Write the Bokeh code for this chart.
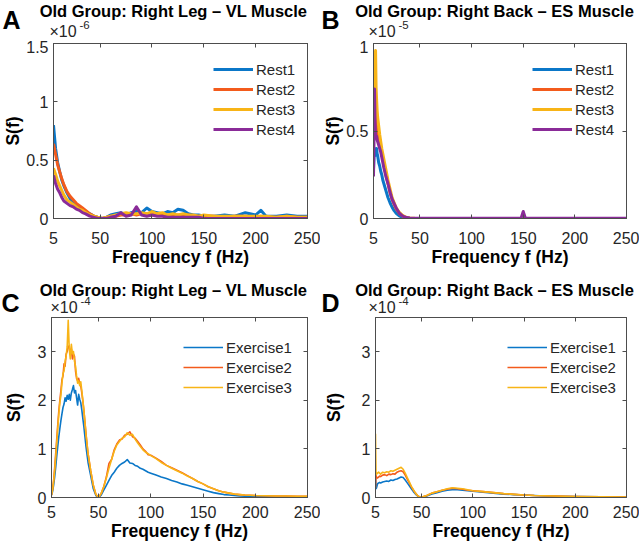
from bokeh.plotting import figure
from bokeh.models import Range1d, FixedTicker, LinearAxis, Label, Legend, LegendItem
from bokeh.layouts import column, row
from bokeh.embed import file_html
from bokeh.resources import INLINE

FONT = "Liberation Sans"
TXT = "#262626"
AX = "#4d4d4d"
BLUE, ORANGE, YELLOW, PURPLE = "#0b77c8", "#f35b1c", "#f8b417", "#8a2b98"

# ---------------- data ----------------
x_ticks = [5, 50, 100, 150, 200, 250]

# Panel A  (S(f) in units of 1e-6)
freq_a = [5, 7, 9, 11, 13, 15, 18, 21, 24, 27, 30, 33, 36, 40, 44, 48, 52, 56, 60, 65,
          70, 75, 80, 85, 90, 95, 100, 105, 110, 115, 120, 125, 130, 135, 140, 145, 150,
          160, 170, 180, 190, 200, 205, 210, 220, 230, 240, 250]
rest1_a = [0.80, 0.60, 0.48, 0.40, 0.33, 0.28, 0.22, 0.17, 0.14, 0.12, 0.10, 0.08, 0.06, 0.04, 0.02,
           0.01, 0.00, 0.01, 0.03, 0.04, 0.05, 0.03, 0.05, 0.06, 0.05, 0.09, 0.06, 0.05, 0.04, 0.06,
           0.05, 0.08, 0.07, 0.04, 0.03, 0.03, 0.02, 0.02, 0.03, 0.02, 0.05, 0.03, 0.07, 0.02, 0.02,
           0.03, 0.02, 0.02]
rest2_a = [0.64, 0.55, 0.46, 0.40, 0.34, 0.29, 0.23, 0.19, 0.16, 0.13, 0.11, 0.09, 0.07, 0.04, 0.02,
           0.01, 0.00, 0.01, 0.02, 0.02, 0.03, 0.03, 0.04, 0.03, 0.04, 0.04, 0.03, 0.04, 0.03, 0.03,
           0.02, 0.03, 0.02, 0.03, 0.02, 0.02, 0.02, 0.02, 0.01, 0.02, 0.02, 0.01, 0.02, 0.01, 0.01,
           0.02, 0.01, 0.01]
rest3_a = [0.43, 0.38, 0.32, 0.28, 0.24, 0.20, 0.16, 0.14, 0.12, 0.10, 0.08, 0.07, 0.05, 0.03, 0.02,
           0.01, 0.00, 0.01, 0.02, 0.03, 0.04, 0.05, 0.04, 0.04, 0.05, 0.04, 0.06, 0.04, 0.05, 0.03,
           0.04, 0.03, 0.04, 0.03, 0.03, 0.02, 0.03, 0.02, 0.02, 0.02, 0.02, 0.02, 0.02, 0.02, 0.01,
           0.02, 0.01, 0.01]
rest4_a = [0.37, 0.30, 0.25, 0.22, 0.18, 0.15, 0.13, 0.11, 0.10, 0.08, 0.07, 0.05, 0.04, 0.02, 0.01,
           0.00, 0.00, 0.00, 0.01, 0.02, 0.05, 0.02, 0.03, 0.10, 0.03, 0.02, 0.03, 0.02, 0.02, 0.01,
           0.01, 0.01, 0.01, 0.01, 0.01, 0.01, 0.00, 0.00, 0.00, 0.00, 0.00, 0.00, 0.00, 0.00, 0.00,
           0.00, 0.00, 0.00]

# Panel B  (units of 1e-5)
freq_b = [5, 5.5, 6, 6.5, 7, 7.5, 8, 8.5, 9, 10, 11, 12, 13, 14, 15, 17, 19, 21, 23, 25,
          27, 30, 33, 36, 40, 45, 50, 60, 80, 100, 120, 140, 148, 150, 152, 160, 180, 200, 225, 250]
rest1_b = [0.28, 0.35, 0.40, 0.36, 0.38, 0.37, 0.40, 0.37, 0.36, 0.32, 0.30, 0.27, 0.25, 0.22, 0.20,
           0.16, 0.12, 0.09, 0.065, 0.045, 0.03, 0.015, 0.007, 0.003, 0.001, 0, 0, 0, 0, 0,
           0, 0, 0, 0.005, 0, 0, 0, 0, 0, 0]
rest2_b = [0.45, 0.55, 0.72, 0.62, 0.65, 0.58, 0.55, 0.52, 0.50, 0.46, 0.43, 0.40, 0.37, 0.34, 0.31,
           0.25, 0.20, 0.15, 0.11, 0.08, 0.055, 0.03, 0.015, 0.007, 0.002, 0, 0, 0, 0, 0,
           0, 0, 0, 0.01, 0, 0, 0, 0, 0, 0]
rest3_b = [0.48, 0.70, 0.82, 0.90, 0.96, 0.75, 0.68, 0.62, 0.58, 0.53, 0.48, 0.44, 0.40, 0.37, 0.34,
           0.28, 0.22, 0.17, 0.12, 0.09, 0.06, 0.035, 0.018, 0.008, 0.003, 0.001, 0, 0, 0, 0,
           0, 0, 0, 0.01, 0, 0, 0, 0, 0, 0]
rest4_b = [0.24, 0.45, 0.74, 0.55, 0.48, 0.46, 0.47, 0.45, 0.44, 0.42, 0.40, 0.38, 0.35, 0.32, 0.29,
           0.24, 0.20, 0.15, 0.11, 0.085, 0.06, 0.03, 0.015, 0.007, 0.003, 0.002, 0.002, 0.002, 0.002, 0.002,
           0.002, 0.002, 0.003, 0.04, 0.003, 0.002, 0.002, 0.002, 0.002, 0.002]

# Panel C  (units of 1e-4)
freq_c = [5, 6, 7, 8, 9, 10, 11, 12, 13, 14, 15, 16, 17, 18, 19, 20, 21, 22, 23, 24,
          25, 26, 27, 28, 29, 30, 31, 32, 33, 34, 35, 36, 37, 38, 39, 40,
          42.5, 45, 47.5, 50, 52.5, 55, 57.5, 60, 62.5, 65, 67.5, 70, 72.5, 75, 77.5, 80,
          82.5, 85, 87.5, 90, 92.5, 95, 97.5, 100,
          105, 110, 115, 120, 125, 130, 135, 140, 145, 150, 155, 160, 165, 170, 175, 180,
          185, 190, 195, 200, 210, 220, 230, 240, 250]
ex1_c = [0.05, 0.12, 0.25, 0.42, 0.62, 0.85, 1.05, 1.25, 1.42, 1.58,
         1.72, 1.85, 1.92, 2.05, 1.98, 2.10, 2.02, 2.12, 2.00, 2.15,
         2.22, 2.30, 2.15, 2.20, 2.05, 1.90, 2.12, 2.02, 1.95, 1.80,
         1.62, 1.45, 1.25, 1.05, 0.88, 0.72,
         0.45, 0.18, 0.04, 0.00, 0.05, 0.15, 0.25, 0.35, 0.45, 0.52, 0.60, 0.66, 0.70, 0.73,
         0.78, 0.71, 0.70, 0.66, 0.64, 0.60, 0.58, 0.55, 0.52, 0.50,
         0.46, 0.42, 0.39, 0.35, 0.32, 0.28, 0.25, 0.22, 0.19, 0.16, 0.13, 0.10, 0.08, 0.06,
         0.05, 0.04, 0.03, 0.025, 0.02, 0.02,
         0.015, 0.01, 0.01, 0.01, 0.01]
ex2_c = [0.05, 0.16, 0.35, 0.60, 0.90, 1.20, 1.50, 1.78, 2.00, 2.20,
         2.42, 2.50, 2.75, 2.70, 2.95, 3.00, 3.10, 3.12, 2.95, 3.05,
         2.85, 2.95, 2.90, 2.60, 2.45, 2.40, 2.45, 2.35, 2.30, 2.15,
         1.98, 1.78, 1.55, 1.32, 1.10, 0.90,
         0.55, 0.25, 0.06, 0.00, 0.08, 0.22, 0.42, 0.70, 0.78, 0.98, 1.10, 1.18, 1.20, 1.28,
         1.30, 1.35, 1.25, 1.22, 1.15, 1.08, 1.00, 0.95, 0.88, 0.87,
         0.81, 0.74, 0.66, 0.61, 0.56, 0.51, 0.45, 0.39, 0.33, 0.28, 0.22, 0.18, 0.14, 0.11,
         0.09, 0.07, 0.06, 0.05, 0.045, 0.04,
         0.035, 0.03, 0.03, 0.025, 0.025]
ex3_c = [0.05, 0.15, 0.32, 0.55, 0.82, 1.12, 1.42, 1.70, 1.95, 2.10,
         2.35, 2.55, 2.60, 2.80, 2.90, 3.10, 3.64, 3.05, 2.85, 3.15,
         2.95, 3.00, 2.80, 2.70, 2.50, 2.35, 2.40, 2.30, 2.38, 2.20,
         2.00, 1.80, 1.55, 1.30, 1.10, 0.90,
         0.55, 0.25, 0.06, 0.00, 0.08, 0.22, 0.40, 0.60, 0.78, 0.95, 1.08, 1.15, 1.22, 1.25,
         1.33, 1.28, 1.30, 1.20, 1.12, 1.05, 0.98, 0.93, 0.90, 0.86,
         0.80, 0.72, 0.66, 0.60, 0.55, 0.50, 0.44, 0.39, 0.33, 0.28, 0.22, 0.18, 0.14, 0.11,
         0.09, 0.07, 0.06, 0.05, 0.045, 0.04,
         0.035, 0.03, 0.03, 0.025, 0.025]

# Panel D  (units of 1e-4)
freq_d = [5, 5.5, 6, 7, 8, 9, 10, 12, 14, 16, 18, 20, 22, 24, 26, 28, 30, 32, 34, 36,
          38, 40, 42, 44, 46, 48, 50, 52, 55, 60, 65, 70, 75, 80, 85, 90, 95, 100, 110, 120,
          130, 140, 150, 160, 170, 180, 200, 225, 250]
ex1_d = [0.40, 0.18, 0.20, 0.28, 0.30, 0.31, 0.30, 0.32, 0.33, 0.34, 0.33, 0.36, 0.35, 0.37, 0.38,
         0.40, 0.42, 0.41, 0.36, 0.30, 0.24, 0.18, 0.12, 0.07, 0.03, 0.01, 0.0, 0.01, 0.03, 0.07,
         0.10, 0.13, 0.15, 0.16, 0.16, 0.15, 0.14, 0.13, 0.11, 0.09, 0.07, 0.06, 0.05, 0.04, 0.03,
         0.025, 0.02, 0.015, 0.01]
ex2_d = [0.20, 0.45, 0.42, 0.40, 0.42, 0.44, 0.43, 0.46, 0.47, 0.45, 0.48, 0.47, 0.49, 0.48, 0.52,
         0.54, 0.55, 0.53, 0.46, 0.38, 0.30, 0.22, 0.15, 0.09, 0.04, 0.01, 0.0, 0.02, 0.04, 0.09,
         0.12, 0.15, 0.17, 0.19, 0.18, 0.17, 0.15, 0.14, 0.12, 0.10, 0.08, 0.065, 0.05, 0.04, 0.035,
         0.03, 0.02, 0.015, 0.01]
ex3_d = [1.31, 0.52, 0.48, 0.50, 0.52, 0.50, 0.48, 0.52, 0.51, 0.53, 0.52, 0.55, 0.54, 0.56, 0.58,
         0.60, 0.62, 0.58, 0.50, 0.41, 0.32, 0.23, 0.16, 0.09, 0.04, 0.01, 0.0, 0.02, 0.04, 0.09,
         0.12, 0.15, 0.18, 0.20, 0.19, 0.18, 0.16, 0.14, 0.12, 0.10, 0.08, 0.065, 0.05, 0.04, 0.035,
         0.03, 0.02, 0.015, 0.01]

rest_labels = ["Rest1", "Rest2", "Rest3", "Rest4"]
ex_labels = ["Exercise1", "Exercise2", "Exercise3"]
title_leg = "Old Group: Right Leg \u2013 VL Muscle"
title_back = "Old Group: Right Back \u2013 ES Muscle"


def header(w, h, letter, title, exp, pos):
    """Strip above a panel holding the panel letter, title and axis exponent.
    Positions are the vertical middles of the texts, in px from the strip's bottom-left."""
    p = figure(width=w, height=h, output_backend="svg", toolbar_location=None,
               x_range=Range1d(0, w), y_range=Range1d(0, h),
               x_axis_type=None, y_axis_type=None,
               min_border_left=0, min_border_right=0, min_border_top=0, min_border_bottom=0,
               outline_line_color=None, background_fill_color="white",
               border_fill_color="white")

    def t(x, y, text, size, bold=False, align="left"):
        p.add_layout(Label(x=x, y=y, text=text, text_font=FONT, text_font_size=size,
                           text_font_style="bold" if bold else "normal",
                           text_color="black" if bold else TXT,
                           text_align=align, text_baseline="middle"))

    t(pos["title"][0], pos["title"][1], title, "16.5px", bold=True, align="center")
    t(pos["letter"][0], pos["letter"][1], letter, "25px", bold=True)
    t(pos["exp"][0], pos["exp"][1], "\u00d710", "16px")
    t(pos["sup"][0], pos["sup"][1], exp, "11.5px")
    return p


def panel(freq, series, labels, colors, ymax, yticks, lw, w, h, bl, br, bt, bb,
          legloc, tick_standoff, ylab_standoff):
    p = figure(width=w, height=h, output_backend="svg", toolbar_location=None,
               x_range=Range1d(5, 250), y_range=Range1d(0, ymax),
               min_border_left=bl, min_border_right=br, min_border_top=bt, min_border_bottom=bb,
               background_fill_color="white", border_fill_color="white")
    p.xgrid.visible = False
    p.ygrid.visible = False
    p.outline_line_color = AX
    p.outline_line_width = 1

    p.xaxis.ticker = FixedTicker(ticks=x_ticks)
    p.yaxis.ticker = FixedTicker(ticks=yticks)
    p.yaxis.major_label_overrides = {t: ("%g" % t) for t in yticks}
    for ax in (p.xaxis[0], p.yaxis[0]):
        ax.axis_line_color = AX
        ax.major_tick_line_color = AX
        ax.major_tick_in = 4
        ax.major_tick_out = 0
        ax.minor_tick_line_color = None
        ax.major_label_text_font = FONT
        ax.major_label_text_font_size = "16px"
        ax.major_label_text_color = TXT
        ax.axis_label_text_font = FONT
        ax.axis_label_text_font_size = "17.5px"
        ax.axis_label_text_font_style = "bold"
        ax.axis_label_text_color = "black"
    p.xaxis.major_label_standoff = tick_standoff
    p.yaxis.major_label_standoff = 5
    p.xaxis.axis_label = "Frequency f (Hz)"
    p.xaxis.axis_label_standoff = 0
    p.yaxis.axis_label = "S(f)"
    p.yaxis.axis_label_standoff = ylab_standoff

    # box ticks on the top and right edges (no labels)
    for loc, tk in (("above", x_ticks), ("right", yticks)):
        bax = LinearAxis(ticker=FixedTicker(ticks=tk),
                         major_label_overrides={t: "" for t in tk},
                         major_label_text_font_size="1px",
                         major_tick_in=4, major_tick_out=0, major_label_standoff=0,
                         minor_tick_line_color=None, axis_line_color=AX,
                         major_tick_line_color=AX)
        p.add_layout(bax, loc)

    items = []
    for vals, lab, col in zip(series, labels, colors):
        r = p.line(freq, vals, line_color=col, line_width=lw, line_join="round")
        items.append(LegendItem(label=lab, renderers=[r]))
    leg = Legend(items=items, location=legloc, border_line_alpha=0, background_fill_alpha=0,
                 label_text_font=FONT, label_text_font_size="15px", label_text_color=TXT,
                 label_text_font_style="normal",
                 glyph_width=40, glyph_height=20, label_height=20, label_standoff=3,
                 spacing=0, padding=0, margin=0)
    p.add_layout(leg)
    return p


hA = header(320, 40, "A", title_leg, "-6",
            {"title": (173, 30), "letter": (2, 21), "exp": (49, 9.5), "sup": (79, 15.5)})
hB = header(319, 40, "B", title_back, "-5",
            {"title": (174, 30), "letter": (1, 21), "exp": (48, 9.5), "sup": (78, 15.5)})
hC = header(320, 42, "C", title_leg, "-4",
            {"title": (173, 27), "letter": (1, 14), "exp": (50, 9), "sup": (80, 16)})
hD = header(319, 42, "D", title_back, "-4",
            {"title": (174, 27), "letter": (1, 14), "exp": (48, 9), "sup": (78, 16)})

pA = panel(freq_a, [rest1_a, rest2_a, rest3_a, rest4_a], rest_labels,
           [BLUE, ORANGE, YELLOW, PURPLE], 1.5, [0, 0.5, 1, 1.5], 3,
           320, 234, 48, 13, 3, 56, (160, 79), 13, 0)
pB = panel(freq_b, [rest1_b, rest2_b, rest3_b, rest4_b], rest_labels,
           [BLUE, ORANGE, YELLOW, PURPLE], 1.0, [0, 0.5, 1], 3,
           319, 234, 47, 13, 2, 56, (159, 79), 13, 0)
pC = panel(freq_c, [ex1_c, ex2_c, ex3_c], ex_labels,
           [BLUE, ORANGE, YELLOW], 3.7, [0, 1, 2, 3], 1.6,
           320, 232, 48, 13, 1, 51, (132, 100), 8, 11)
pD = panel(freq_d, [ex1_d, ex2_d, ex3_d], ex_labels,
           [BLUE, ORANGE, YELLOW], 3.7, [0, 1, 2, 3], 1.6,
           319, 232, 47, 13, 1, 51, (132, 100), 8, 15)

page = column(row(hA, hB), row(pA, pB), row(hC, hD), row(pC, pD))

with open("out.html", "w") as f:
    f.write(file_html(page, INLINE))
